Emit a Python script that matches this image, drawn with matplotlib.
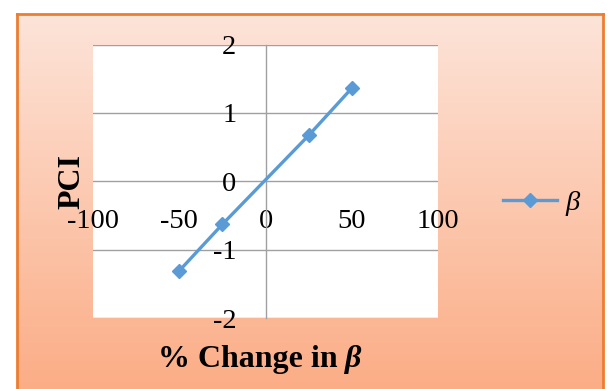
import numpy as np
import matplotlib
matplotlib.use("Agg")
import matplotlib.pyplot as plt
from matplotlib.colors import LinearSegmentedColormap

# Data
pct_change = [-50, -25, 25, 50]
pci_values = [-1.31, -0.63, 0.67, 1.36]
x_ticks = [-100, -50, 0, 50, 100]
y_ticks = [-2, -1, 0, 1, 2]
series_name = "β"

W, H = 608, 389
fig = plt.figure(figsize=(W / 100, H / 100), dpi=100)
fig.patch.set_facecolor("white")

# Chart-area background box with gradient
bx0, bx1, by_top = 17, 603, 14
bg = fig.add_axes([bx0 / W, 0, (bx1 - bx0) / W, (H - by_top) / H], zorder=0)
cmap = LinearSegmentedColormap.from_list("g", ["#FDE4D9", "#FBAD86"])
grad = np.linspace(0, 1, 256).reshape(-1, 1)
bg.imshow(grad, aspect="auto", cmap=cmap, extent=[0, 1, 0, 1], origin="upper")
bg.set_xlim(0, 1)
bg.set_ylim(0, 1)
bg.set_xticks([])
bg.set_yticks([])
for s in ["left", "top", "right"]:
    bg.spines[s].set_color("#ED7D31")
    bg.spines[s].set_linewidth(2.0)
bg.spines["bottom"].set_visible(False)

# Plot area
px0, px1, py_top, py_bot = 93, 438, 44.5, 318
ax = fig.add_axes([px0 / W, (H - py_bot) / H, (px1 - px0) / W, (py_bot - py_top) / H], zorder=1)
ax.set_facecolor("white")
ax.set_xlim(-100, 100)
ax.set_ylim(-2, 2)

ax.plot(pct_change, pci_values, color="#5B9BD5", lw=2.4, marker="D", ms=7,
        label=series_name, zorder=3, clip_on=False)

grid_c = "#A0A0A0"
ax.set_yticks(y_ticks)
ax.set_xticks(x_ticks)
ax.yaxis.grid(True, color=grid_c, lw=1.0)
ax.set_axisbelow(True)
for s in ["top", "right", "bottom"]:
    ax.spines[s].set_visible(False)
ax.spines["left"].set_position(("data", 0))
ax.spines["left"].set_color(grid_c)
ax.spines["left"].set_linewidth(1.0)
ax.spines["bottom"].set_position(("data", 0))

tick_font = dict(family="Liberation Serif", size=20.5)
ax.set_xticklabels([str(v) for v in x_ticks], fontdict=tick_font)
ax.set_yticklabels([str(v) for v in y_ticks], fontdict=tick_font)
ax.tick_params(axis="x", length=0, pad=20)
ax.tick_params(axis="y", length=0, pad=21)

# Axis titles
fig.text(72 / W, 1 - 181 / H, "PCI", rotation=90, ha="center", va="center",
         family="Liberation Serif", weight="bold", size=23)
fig.text(338 / W, 1 - 360 / H, "% Change in", ha="right", va="center",
         family="Liberation Serif", weight="bold", size=23)
fig.text(345 / W, 1 - 360 / H, "β", ha="left", va="center",
         family="Liberation Serif", weight="bold", style="italic", size=23)

# Legend
leg = fig.legend(loc="center left", bbox_to_anchor=(503 / W, 1 - 203 / H),
                 frameon=False, prop=dict(family="Liberation Serif", style="italic", size=20.5),
                 handlelength=1.9, handletextpad=0.3, borderpad=0, borderaxespad=0)

fig.savefig("out.png", dpi=100)
